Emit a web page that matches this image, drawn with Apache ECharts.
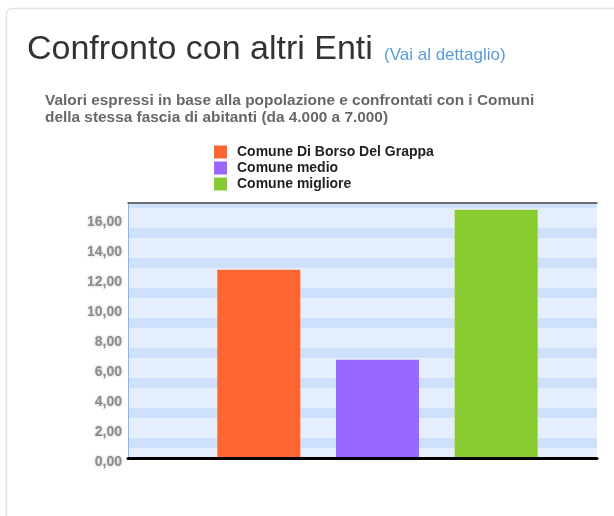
<!DOCTYPE html>
<html lang="it">

<head>
    <meta charset="UTF-8">
    <title>Confronto con altri Enti</title>
    <style>
        body {
            margin: 0;
            background: #fff;
        }

        #main {
            width: 614px;
            height: 516px;
        }
    </style>
    <script src="https://cdn.jsdelivr.net/npm/echarts@6/dist/echarts.min.js"></script>
</head>

<body>
    <div id="main"></div>
    <script>
        // dati
        const categories = [''];
        const seriesNames = ['Comune Di Borso Del Grappa', 'Comune medio', 'Comune migliore'];
        const seriesValues = [12.55, 6.55, 16.55];
        const yMin = 0;
        const yMax = 17;
        const yStep = 2;

        const colors = ['#fd6631', '#9966ff', '#88cc30'];
        const font = '"Liberation Sans", Arial, sans-serif';

        const chart = echarts.init(document.getElementById('main'));

        const series = seriesNames.map((name, i) => ({
            name: name,
            type: 'bar',
            xAxisIndex: 2,
            yAxisIndex: 3,
            data: [seriesValues[i]],
            barWidth: 83,
            barGap: '43%',
            itemStyle: { color: colors[i] },
            z: 2
        }));

        const option = {
            animation: false,
            textStyle: { fontFamily: font },
            graphic: [{
                type: 'rect',
                shape: { x: 6.5, y: 8.5, width: 700, height: 600, r: 5 },
                style: { fill: 'none', stroke: '#e2e2e2', lineWidth: 1.5 },
                silent: true
            }],
            title: [
                {
                    text: 'Confronto con altri Enti',
                    left: 27, top: 33, padding: 0,
                    textStyle: { fontFamily: font, fontSize: 34, fontWeight: 'normal', color: '#333' }
                },
                {
                    text: '(Vai al dettaglio)',
                    left: 384, top: 47, padding: 0,
                    textStyle: { fontFamily: font, fontSize: 17, fontWeight: 'normal', color: '#5b9bd9' }
                },
                {
                    text: 'Valori espressi in base alla popolazione e confrontati con i Comuni\ndella stessa fascia di abitanti (da 4.000 a 7.000)',
                    left: 45, top: 92, padding: 0,
                    textStyle: { fontFamily: font, fontSize: 15.4, lineHeight: 17, fontWeight: 'bold', color: '#686868' }
                }
            ],
            legend: {
                orient: 'vertical',
                left: 214, top: 145,
                padding: 0,
                itemWidth: 13, itemHeight: 13, itemGap: 2,
                icon: 'rect',
                data: seriesNames,
                textStyle: { fontFamily: font, fontSize: 14, fontWeight: 'bold', color: '#222', padding: [0, 0, 0, 5] }
            },
            grid: [
                { left: 128, top: 203, width: 469, height: 255 },
                { left: 158, top: 203, width: 439, height: 255 }
            ],
            xAxis: [
                {
                    gridIndex: 0, type: 'category', data: categories, position: 'bottom', z: 5,
                    axisLine: { onZero: false, lineStyle: { color: '#000', width: 3 } },
                    axisTick: { show: false }, axisLabel: { show: false }, splitLine: { show: false }
                },
                {
                    gridIndex: 0, type: 'category', data: categories, position: 'top', z: 5,
                    axisLine: { onZero: false, lineStyle: { color: '#444', width: 1.5 } },
                    axisTick: { show: false }, axisLabel: { show: false }, splitLine: { show: false }
                },
                { gridIndex: 1, type: 'category', data: categories, show: false }
            ],
            yAxis: [
                {
                    // etichette
                    gridIndex: 0, type: 'value', min: yMin, max: yMax, interval: yStep, z: 5,
                    axisLine: { show: true, onZero: false, lineStyle: { color: '#8ab6f6', width: 1 } },
                    axisTick: { show: false },
                    splitLine: { show: false },
                    axisLabel: {
                        margin: 6,
                        showMaxLabel: false,
                        verticalAlign: 'top',
                        lineHeight: 9,
                        fontFamily: font, fontSize: 14, fontWeight: 'bold', color: '#8c8c8c',
                        textShadowColor: 'rgba(0,0,0,0.25)', textShadowBlur: 3,
                        formatter: v => v.toFixed(2).replace('.', ',')
                    }
                },
                {
                    // fasce di sfondo (1 unità = 1/3 di unità del grafico)
                    gridIndex: 0, type: 'value', min: 0, max: yMax * 3, interval: 2, z: 0,
                    axisLine: { show: false }, axisTick: { show: false }, axisLabel: { show: false },
                    splitLine: { show: false },
                    splitArea: { show: true, areaStyle: { color: ['#e4eefd', '#cfe0fc', '#e4eefd'] } }
                },
                { gridIndex: 1, type: 'value', min: yMin, max: yMax, show: false },
                { gridIndex: 1, type: 'value', min: yMin, max: yMax, show: false }
            ],
            series: series
        };

        chart.setOption(option);
    </script>
</body>

</html>
